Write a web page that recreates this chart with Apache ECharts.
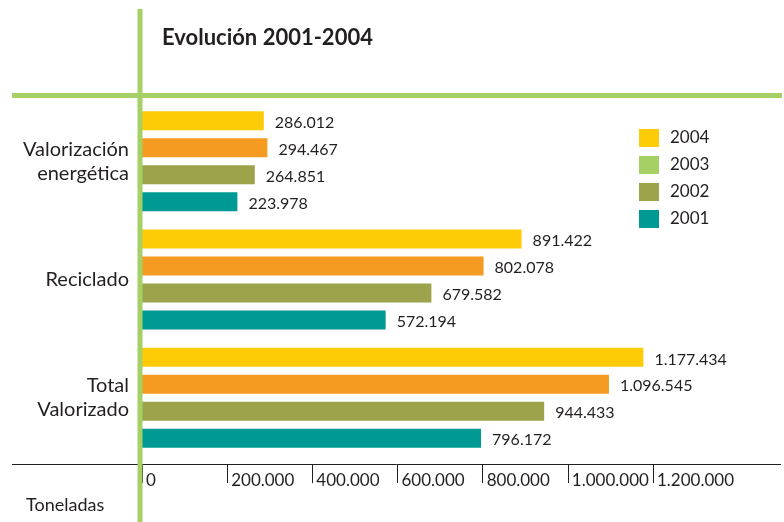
<!DOCTYPE html>
<html>
<head>
<meta charset="utf-8">
<script src="https://cdn.jsdelivr.net/npm/echarts@6/dist/echarts.min.js"></script>
<style>
  html, body { margin: 0; padding: 0; background: #fff; }
  #chart { width: 784px; height: 522px; }
</style>
</head>
<body>
<div id="chart"></div>
<script>
// datos (toneladas)
const categorias = ["Valorización\nenergética", "Reciclado", "Total\nValorizado"];
const anios = ["2004", "2003", "2002", "2001"];
const v2004 = [286012, 891422, 1177434];
const v2003 = [294467, 802078, 1096545];
const v2002 = [264851, 679582, 944433];
const v2001 = [223978, 572194, 796172];
const ticksX = [0, 200000, 400000, 600000, 800000, 1000000, 1200000];

const colorBarras = ["#FECC07", "#F59B21", "#9CA34A", "#009994"];
const colorLeyenda = ["#FECC07", "#A4D065", "#9CA34A", "#009994"];
const verde = "#A4D065";
const texto = "#231F20";
const fuente = "Lato";

// 1177434 -> "1.177.434"
function fmt(v) {
  return String(v).replace(/\B(?=(\d{3})+(?!\d))/g, ".");
}

const valores = [v2004, v2003, v2002, v2001];

const chart = echarts.init(document.getElementById("chart"));

const options = {
  animation: false,
  textStyle: { fontFamily: fuente, color: texto },
  grid: { left: 142, right: 131, top: 102, bottom: 65, containLabel: false },
  legend: {
    orient: "vertical",
    left: 639,
    top: 129,
    itemWidth: 20,
    itemHeight: 18,
    itemGap: 9,
    padding: 0,
    selectedMode: false,
    icon: "rect",
    textStyle: { fontSize: 17, color: texto, fontFamily: fuente, padding: [0, 0, 0, 6] },
    data: anios.map((a, i) => ({ name: a, itemStyle: { color: colorLeyenda[i] } })),
  },
  xAxis: {
    type: "value",
    min: ticksX[0],
    max: ticksX[ticksX.length - 1],
    interval: ticksX[1] - ticksX[0],
    offset: 7,
    splitLine: { show: false },
    axisLine: { show: false },
    axisTick: { show: true, length: 19, lineStyle: { color: texto, width: 1 } },
    axisLabel: {
      show: true,
      interval: 0,
      align: "left",
      margin: 8,
      padding: [0, 0, 0, 4],
      fontSize: 17,
      color: texto,
      fontFamily: fuente,
      formatter: (v) => fmt(v),
    },
  },
  yAxis: {
    type: "category",
    inverse: true,
    data: categorias,
    axisLine: { show: false },
    axisTick: { show: false },
    axisLabel: {
      margin: 13,
      fontSize: 20,
      lineHeight: 24,
      color: texto,
      fontFamily: fuente,
      align: "right",
    },
  },
  series: anios.map((a, i) => ({
    name: a,
    type: "bar",
    data: valores[i],
    barWidth: 19,
    barGap: "42%",
    barCategoryGap: "15%",
    itemStyle: { color: colorBarras[i] },
    label: {
      show: true,
      position: "right",
      distance: 11,
      fontSize: 16,
      color: texto,
      fontFamily: fuente,
      offset: [0, 2],
      formatter: (p) => fmt(p.value),
    },
  })),
  graphic: [
    {
      type: "text",
      left: 162,
      top: 27,
      style: { text: "Evolución 2001-2004", fontSize: 22, fontWeight: "bold", fontFamily: fuente, fill: texto },
    },
    {
      type: "text",
      left: 26,
      top: 496,
      style: { text: "Toneladas", fontSize: 18, fontFamily: fuente, fill: texto },
    },
    // línea del eje
    {
      type: "line",
      shape: { x1: 12, y1: 464.5, x2: 781, y2: 464.5 },
      style: { stroke: texto, lineWidth: 1 },
      z: 10,
    },
    // líneas verdes
    {
      type: "rect",
      shape: { x: 12, y: 93, width: 770, height: 5 },
      style: { fill: verde },
      z: 10,
    },
    {
      type: "rect",
      shape: { x: 137.5, y: 9, width: 5, height: 513 },
      style: { fill: verde },
      z: 11,
    },
  ],
};

chart.setOption(options);
</script>
</body>
</html>
